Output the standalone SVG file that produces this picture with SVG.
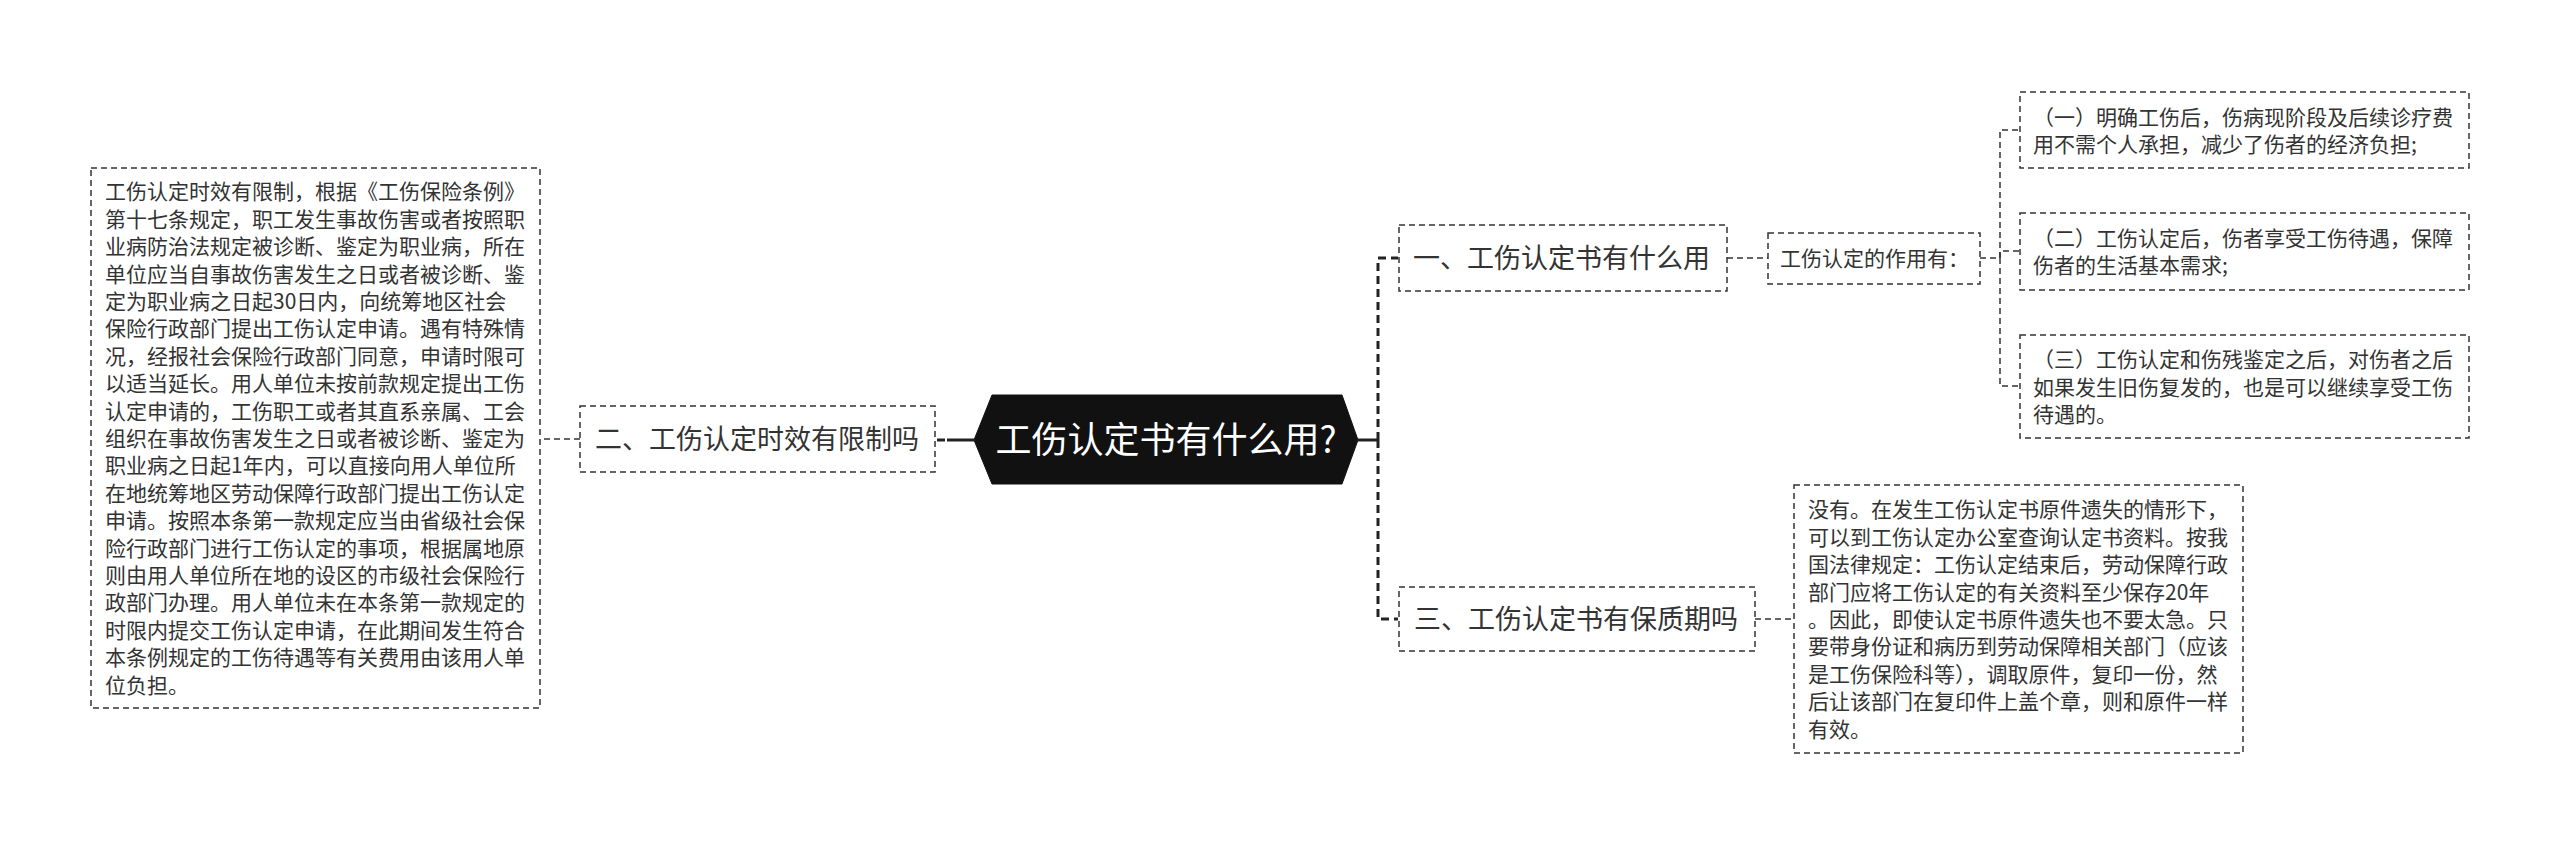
<svg xmlns="http://www.w3.org/2000/svg" width="2560" height="845" viewBox="0 0 2560 845">
<style>
.box{fill:#fff;stroke:#333;stroke-width:1.5;stroke-dasharray:6 4}
.t{font-family:"Noto Sans CJK SC","Noto Sans",sans-serif;fill:#333}
.s{font-size:21px}
.l1{font-size:27px}
.c{font-family:"Noto Sans CJK SC","Noto Sans",sans-serif;font-size:36px;fill:#fff}
.thin{fill:none;stroke:#333;stroke-width:1.5;stroke-dasharray:6 4}
.thick{fill:none;stroke:#222;stroke-width:3;stroke-dasharray:8 5}
.solid{fill:none;stroke:#222;stroke-width:3}
</style>
<rect width="2560" height="845" fill="#fff"/>
<g id="connectors">
<path class="solid" d="M1358,440 H1378"/>
<path class="thick" d="M1378,440 V258 H1398"/>
<path class="thick" d="M1378,440 V619 H1398"/>
<path class="solid" d="M974,440 H947"/>
<path class="thick" d="M945,440 H936"/>
<path class="thin" d="M580,439 H540"/>
<path class="thin" d="M1727,258 H1768"/>
<path class="thin" d="M1980,258 H2000 V130 H2020"/>
<path class="thin" d="M2000,258 V251 H2020"/>
<path class="thin" d="M2000,258 V386 H2020"/>
<path class="thin" d="M1755,619 H1794"/>
</g>
<g id="central">
<polygon points="974,440 992,395 1342,395 1358,440 1342,484 992,484" fill="#111" stroke="#111" stroke-width="1"/>
<text class="c" x="1166" y="453" text-anchor="middle">工伤认定书有什么用?</text>
</g>
<g id="n1">
<rect class="box" x="1399" y="225" width="328" height="66"/>
<text class="t l1" x="1413" y="268">一、工伤认定书有什么用</text>
</g>
<g id="n2">
<rect class="box" x="580" y="406" width="355" height="66"/>
<text class="t l1" x="595" y="449">二、工伤认定时效有限制吗</text>
</g>
<g id="n3">
<rect class="box" x="1399" y="587" width="356" height="64"/>
<text class="t l1" x="1414" y="629">三、工伤认定书有保质期吗</text>
</g>
<g id="n1a">
<rect class="box" x="1768" y="233" width="212" height="51"/>
<text class="t s" x="1780" y="266">工伤认定的作用有：</text>
</g>
<g id="n1a1">
<rect class="box" x="2020" y="92" width="449" height="76"/>
<text class="t s"><tspan x="2033" y="124.5">（一）明确工伤后，伤病现阶段及后续诊疗费</tspan><tspan x="2033" y="152">用不需个人承担，减少了伤者的经济负担;</tspan></text>
</g>
<g id="n1a2">
<rect class="box" x="2020" y="213" width="449" height="77"/>
<text class="t s"><tspan x="2033" y="245.5">（二）工伤认定后，伤者享受工伤待遇，保障</tspan><tspan x="2033" y="273">伤者的生活基本需求;</tspan></text>
</g>
<g id="n1a3">
<rect class="box" x="2020" y="335" width="449" height="103"/>
<text class="t s"><tspan x="2033" y="367">（三）工伤认定和伤残鉴定之后，对伤者之后</tspan><tspan x="2033" y="394.5">如果发生旧伤复发的，也是可以继续享受工伤</tspan><tspan x="2033" y="422">待遇的。</tspan></text>
</g>
<g id="n2a">
<rect class="box" x="91" y="168" width="449" height="540"/>
<text class="t s">
<tspan x="105" y="199.4">工伤认定时效有限制，根据《工伤保险条例》</tspan>
<tspan x="105" y="226.8">第十七条规定，职工发生事故伤害或者按照职</tspan>
<tspan x="105" y="254.2">业病防治法规定被诊断、鉴定为职业病，所在</tspan>
<tspan x="105" y="281.6">单位应当自事故伤害发生之日或者被诊断、鉴</tspan>
<tspan x="105" y="309">定为职业病之日起30日内，向统筹地区社会</tspan>
<tspan x="105" y="336.4">保险行政部门提出工伤认定申请。遇有特殊情</tspan>
<tspan x="105" y="363.8">况，经报社会保险行政部门同意，申请时限可</tspan>
<tspan x="105" y="391.2">以适当延长。用人单位未按前款规定提出工伤</tspan>
<tspan x="105" y="418.6">认定申请的，工伤职工或者其直系亲属、工会</tspan>
<tspan x="105" y="446">组织在事故伤害发生之日或者被诊断、鉴定为</tspan>
<tspan x="105" y="473.4">职业病之日起1年内，可以直接向用人单位所</tspan>
<tspan x="105" y="500.8">在地统筹地区劳动保障行政部门提出工伤认定</tspan>
<tspan x="105" y="528.2">申请。按照本条第一款规定应当由省级社会保</tspan>
<tspan x="105" y="555.6">险行政部门进行工伤认定的事项，根据属地原</tspan>
<tspan x="105" y="583">则由用人单位所在地的设区的市级社会保险行</tspan>
<tspan x="105" y="610.4">政部门办理。用人单位未在本条第一款规定的</tspan>
<tspan x="105" y="637.8">时限内提交工伤认定申请，在此期间发生符合</tspan>
<tspan x="105" y="665.2">本条例规定的工伤待遇等有关费用由该用人单</tspan>
<tspan x="105" y="692.6">位负担。</tspan>
</text>
</g>
<g id="n3a">
<rect class="box" x="1794" y="485" width="449" height="268"/>
<text class="t s">
<tspan x="1808" y="517.4">没有。在发生工伤认定书原件遗失的情形下，</tspan>
<tspan x="1808" y="544.8">可以到工伤认定办公室查询认定书资料。按我</tspan>
<tspan x="1808" y="572.2">国法律规定：工伤认定结束后，劳动保障行政</tspan>
<tspan x="1808" y="599.6">部门应将工伤认定的有关资料至少保存20年</tspan>
<tspan x="1808" y="627">。因此，即使认定书原件遗失也不要太急。只</tspan>
<tspan x="1808" y="654.4">要带身份证和病历到劳动保障相关部门（应该</tspan>
<tspan x="1808" y="681.8">是工伤保险科等），调取原件，复印一份，然</tspan>
<tspan x="1808" y="709.2">后让该部门在复印件上盖个章，则和原件一样</tspan>
<tspan x="1808" y="736.6">有效。</tspan>
</text>
</g>
</svg>
